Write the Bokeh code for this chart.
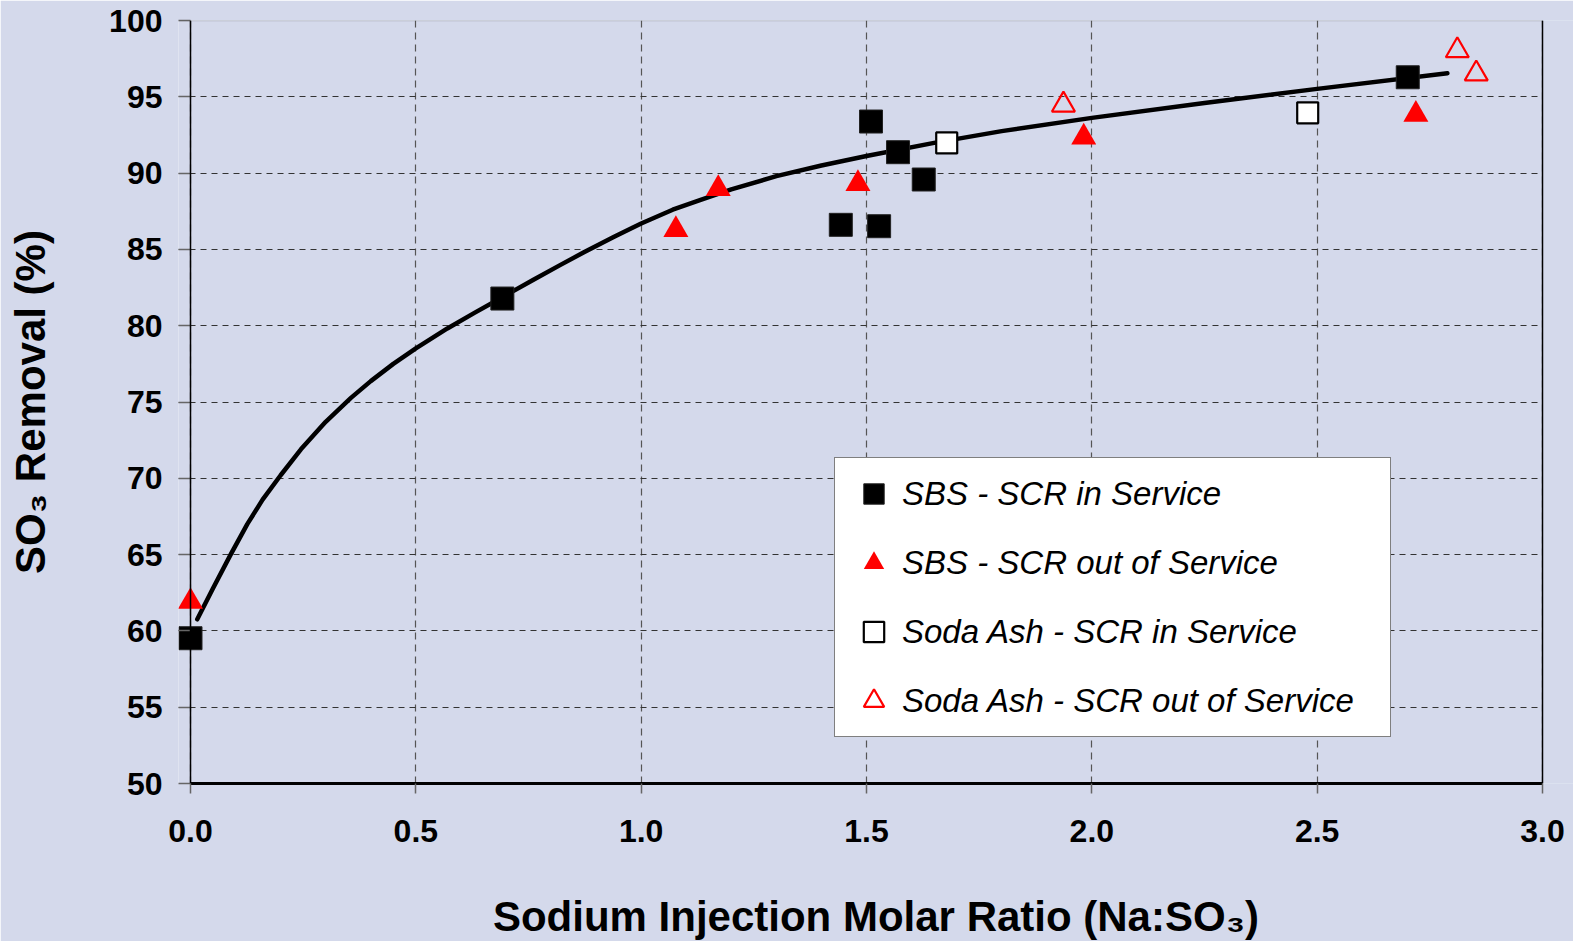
from bokeh.plotting import figure
from bokeh.models import (FixedTicker, NumeralTickFormatter, Legend, LegendItem,
                          Range1d, Span, BoxAnnotation)
from bokeh.embed import file_html
from bokeh.resources import INLINE

# ---- data ----
sbs_in_x = [0.0, 0.692, 1.443, 1.510, 1.528, 1.570, 1.627, 2.701]
sbs_in_y = [59.52, 81.78, 86.61, 93.38, 86.52, 91.37, 89.58, 96.28]

sbs_out_x = [0.0, 1.077, 1.171, 1.481, 1.982, 2.719]
sbs_out_y = [61.92, 86.29, 88.98, 89.30, 92.35, 93.84]

soda_in_x = [1.678, 2.479]
soda_in_y = [91.98, 93.95]

soda_out_x = [1.937, 2.811, 2.853]
soda_out_y = [94.47, 98.03, 96.51]

# fitted curve, points
fit_x = [0.015, 0.050, 0.089, 0.126, 0.160, 0.200, 0.245, 0.300, 0.356, 0.400,
         0.450, 0.500, 0.570, 0.630, 0.694, 0.760, 0.820, 0.873, 0.940, 1.000,
         1.070, 1.132, 1.200, 1.300, 1.400, 1.500, 1.650, 1.800, 2.000, 2.250,
         2.500, 2.789]
fit_y = [60.76, 62.80, 65.00, 67.00, 68.60, 70.20, 71.90, 73.70, 75.27, 76.37,
         77.50, 78.52, 79.82, 80.84, 81.90, 83.00, 83.97, 84.81, 85.83, 86.70,
         87.60, 88.25, 88.93, 89.80, 90.50, 91.12, 91.98, 92.75, 93.62, 94.60,
         95.52, 96.55]

x_ticks = [0.0, 0.5, 1.0, 1.5, 2.0, 2.5, 3.0]
y_ticks = [50, 55, 60, 65, 70, 75, 80, 85, 90, 95, 100]

labels = ["SBS - SCR in Service", "SBS - SCR out of Service",
          "Soda Ash - SCR in Service", "Soda Ash - SCR out of Service"]

x_title = "Sodium Injection Molar Ratio (Na:SO₃)"
y_title = "SO₃ Removal (%)"

BG = "#d4d9eb"
FONT = "Liberation Sans"

# layout: the drawing frame is padded left of x=0 (so markers at x=0 are not
# clipped) and right of x=3 (so the centred x title sits where the reference has it)
X_MAX = 3.0
FRAME_W = 1395
PAD_L = 12          # px between frame left and x=0
PLOT_PX = 1352      # px between x=0 and x=3
px_per_unit = PLOT_PX / X_MAX
x_start = -PAD_L / px_per_unit
x_end = X_MAX + (FRAME_W - PAD_L - PLOT_PX) / px_per_unit

p = figure(width=1573, height=941, frame_width=FRAME_W, frame_height=763,
           x_range=Range1d(x_start, x_end), y_range=Range1d(50, 100),
           output_backend="svg", toolbar_location=None,
           min_border_left=178, min_border_top=20, min_border_right=0,
           min_border_bottom=158)
p.background_fill_color = BG
p.border_fill_color = BG
p.outline_line_color = None

# grid
p.xgrid.ticker = FixedTicker(ticks=x_ticks)
p.ygrid.ticker = FixedTicker(ticks=y_ticks)
p.xgrid.grid_line_color = "#555555"
p.ygrid.grid_line_color = "#333333"
p.xgrid.grid_line_dash = "7 5"
p.ygrid.grid_line_dash = "6 5"
p.xgrid.grid_line_width = 1.2
p.ygrid.grid_line_width = 1.2

# axes
for ax in (p.xaxis[0], p.yaxis[0]):
    ax.major_label_text_font = FONT
    ax.major_label_text_font_style = "bold"
    ax.major_label_text_font_size = "32px"
    ax.major_label_text_color = "black"
    ax.axis_label_text_font = FONT
    ax.axis_label_text_font_style = "bold"
    ax.axis_label_text_font_size = "42px"
    ax.axis_label_text_color = "black"
    ax.major_tick_line_color = "#666666"
    ax.major_tick_line_width = 1.5
    ax.minor_tick_line_color = None

p.xaxis.ticker = FixedTicker(ticks=x_ticks)
p.yaxis.ticker = FixedTicker(ticks=y_ticks)
p.xaxis.formatter = NumeralTickFormatter(format="0.0")
p.yaxis.formatter = NumeralTickFormatter(format="0")
p.xaxis.bounds = (0, X_MAX)
p.xaxis.axis_line_color = "black"
p.xaxis.axis_line_width = 3
p.xaxis.major_tick_in = 0
p.xaxis.major_tick_out = 10
p.yaxis.axis_line_color = None
p.yaxis.major_tick_in = PAD_L
p.yaxis.major_tick_out = 0
p.xaxis.major_label_standoff = 26
p.yaxis.major_label_standoff = 16
p.xaxis.axis_label = x_title
p.xaxis.axis_label_standoff = 48
p.yaxis.axis_label = y_title
p.yaxis.axis_label_standoff = 52

# fitted curve
p.line(fit_x, fit_y, line_color="black", line_width=4.5, line_join="round",
       line_cap="round")

# data series
r1 = p.scatter(sbs_in_x, sbs_in_y, marker="square", size=23,
               fill_color="black", line_color="#222222", line_width=1)
r2 = p.scatter(sbs_out_x, sbs_out_y, marker="triangle", size=25,
               fill_color="red", line_color=None)
r3 = p.scatter(soda_in_x, soda_in_y, marker="square", size=21,
               fill_color="white", line_color="black", line_width=2.2)
r4 = p.scatter(soda_out_x, soda_out_y, marker="triangle", size=23,
               fill_color=None, line_color="red", line_width=2.2)

# mask the padding strip right of x=3 so the plot area ends at x=3
p.add_layout(BoxAnnotation(left=X_MAX, fill_color=BG, fill_alpha=1.0,
                           line_color=None))
# frame lines: y spine at x=0, top and right borders
p.add_layout(Span(location=0, dimension="height", line_color="black", line_width=1.5))
p.add_layout(BoxAnnotation(left=x_start, right=X_MAX, top=100, bottom=100,
                           fill_alpha=0, line_color="#555555", line_width=1.5))
p.add_layout(Span(location=X_MAX, dimension="height", line_color="black", line_width=1.5))

legend = Legend(items=[LegendItem(label=labels[0], renderers=[r1]),
                       LegendItem(label=labels[1], renderers=[r2]),
                       LegendItem(label=labels[2], renderers=[r3]),
                       LegendItem(label=labels[3], renderers=[r4])],
                location=(656, 46))
legend.glyph_width = 57
legend.glyph_height = 51
legend.label_standoff = 0
legend.label_width = 478
legend.spacing = 18
legend.padding = 10
legend.margin = 0
legend.label_text_font = FONT
legend.label_text_font_style = "italic"
legend.label_text_font_size = "33px"
legend.label_text_color = "black"
legend.label_text_baseline = "middle"
legend.border_line_color = "black"
legend.border_line_width = 1.5
legend.background_fill_color = "white"
legend.background_fill_alpha = 1.0
p.add_layout(legend, "center")

open("out.html", "w").write(file_html(p, INLINE))
